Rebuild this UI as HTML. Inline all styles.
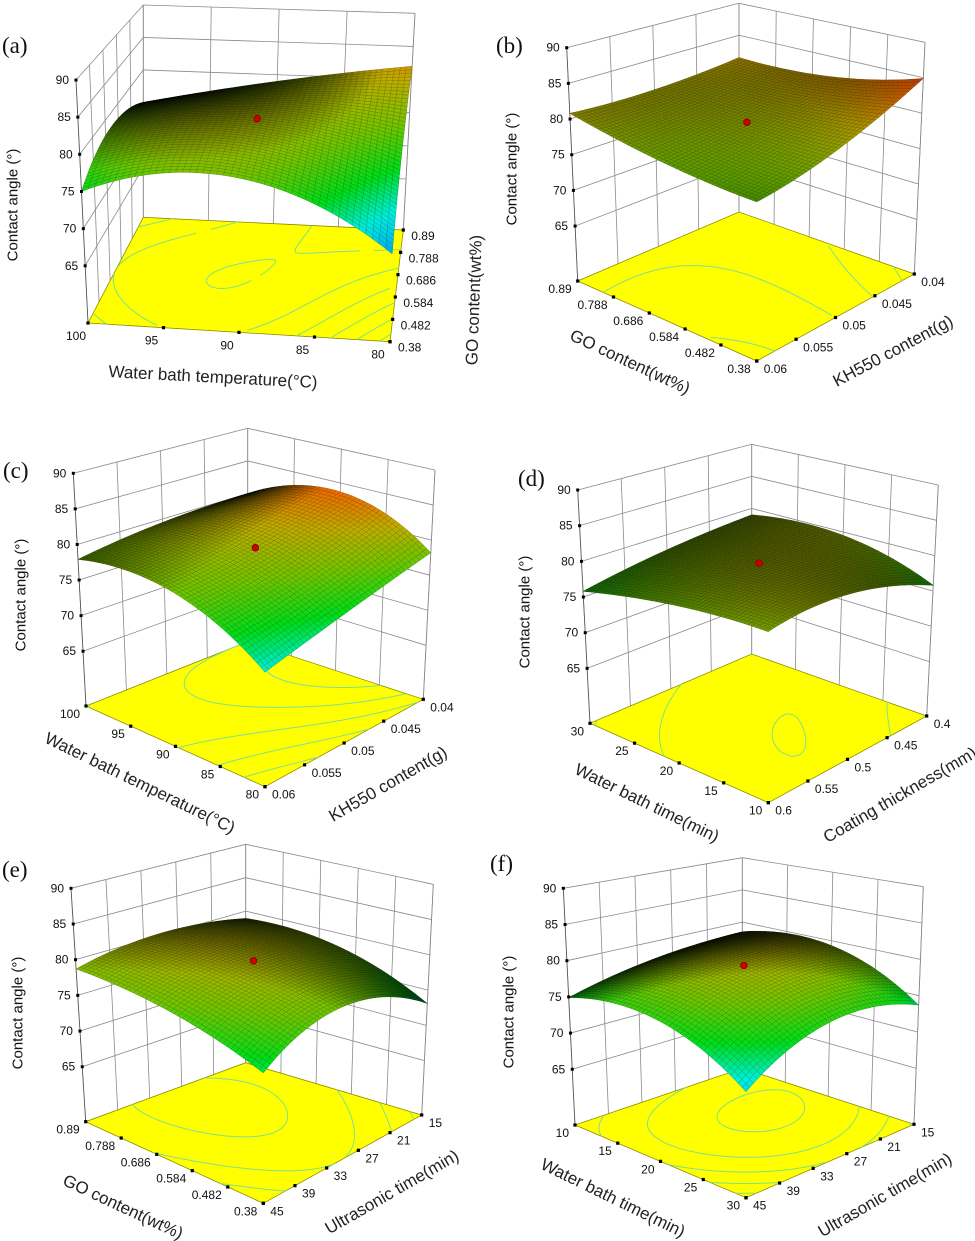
<!DOCTYPE html>
<html><head><meta charset="utf-8"><title>Contact angle response surfaces</title>
<style>
html,body{margin:0;padding:0;background:#fff;}
svg{display:block;}
text{font-family:"Liberation Sans",Arial,sans-serif;fill:#111;}
.pl{font-family:"Liberation Serif","Times New Roman",serif;font-size:23px;}
.zt{font-size:12px;}
.at{font-size:12px;}
.ttl{font-size:17px;fill:#222;}
.ca{font-size:15px;}
</style></head>
<body>
<svg id="fig" width="975" height="1241" viewBox="0 0 975 1241" xmlns="http://www.w3.org/2000/svg"></svg>
<script>
// ---- data (3x3 response grid rows v=0,0.5,1 ; cols u=0,0.5,1) ----
var zTickVals = [65, 70, 75, 80, 85, 90];
var zTickLabels = ['65', '70', '75', '80', '85', '90'];

var aZ = [[75.0, 78.0, 69.0], [78.0, 80.0, 76.0], [75.0, 79.0, 82.0]];
var aUTicks = ['100', '95', '90', '85', '80'];
var aVTicks = ['0.38', '0.482', '0.584', '0.686', '0.788', '0.89'];

var bZ = [[80.8, 78.5, 77.7], [80.5, 79.8, 80.0], [81.5, 82.0, 84.9]];
var bUTicks = ['0.89', '0.788', '0.686', '0.584', '0.482', '0.38'];
var bVTicks = ['0.06', '0.055', '0.05', '0.045', '0.04'];

var cZ = [[77.9, 78.1, 72.0], [79.5, 79.9, 75.0], [80.0, 83.7, 78.2]];
var cUTicks = ['100', '95', '90', '85', '80'];
var cVTicks = ['0.06', '0.055', '0.05', '0.045', '0.04'];

var dZ = [[75.8, 78.3, 79.0], [77.8, 79.9, 79.5], [79.0, 79.5, 75.8]];
var dUTicks = ['30', '25', '20', '15', '10'];
var dVTicks = ['0.6', '0.55', '0.5', '0.45', '0.4'];

var eZ = [[78.7, 77.5, 74.0], [80.3, 80.3, 78.0], [78.9, 78.1, 73.1]];
var eUTicks = ['0.89', '0.788', '0.686', '0.584', '0.482', '0.38'];
var eVTicks = ['45', '39', '33', '27', '21', '15'];

var fZ = [[74.9, 76.2, 71.0], [77.5, 80.1, 76.0], [78.5, 79.3, 73.7]];
var fUTicks = ['10', '15', '20', '25', '30'];
var fVTicks = ['45', '39', '33', '27', '21', '15'];

// ---- layout (screen geometry of each 3D box) ----
var ZF = 57.3, ZT = 90;
var panels = [
 {id:'a', label:'(a)', lx:2, ly:53, Z:aZ, ut:aUTicks, vt:aVTicks, mode:'a',
  L:[88,323], B:[390,341.7], R:[403.3,230], T:[143.3,217.3],
  Lt:[76,80], Bt:[396,96], Rt:[415,13.3], Tt:[143.3,5],
  ca:[13,205], ux:{t:'Water bath temperature(°C)', x:213, y:377, r:3}, vx:{t:'GO content(wt%)', x:474, y:300, r:-88}},
 {id:'b', label:'(b)', lx:496, ly:53, Z:bZ, ut:bUTicks, vt:bVTicks, mode:'d',
  L:[577.7,281], B:[756.7,361], R:[914.3,274], T:[739,212],
  Lt:[566.7,47.7], Bt:[756.7,106], Rt:[925,42.3], Tt:[739,3.3],
  ca:[512,169], ux:{t:'GO content(wt%)', x:630, y:362, r:25}, vx:{t:'KH550 content(g)', x:893, y:351, r:-28}},
 {id:'c', label:'(c)', lx:3, ly:478, Z:cZ, ut:cUTicks, vt:cVTicks, mode:'d',
  L:[86,706], B:[265,786.7], R:[423.3,699.3], T:[247.7,641.7],
  Lt:[73.3,473.3], Bt:[265,532], Rt:[435,470], Tt:[247.7,428.3],
  ca:[21,595], ux:{t:'Water bath temperature(°C)', x:140, y:783, r:26}, vx:{t:'KH550 content(g)', x:388, y:784, r:-30}},
 {id:'d', label:'(d)', lx:518, ly:486, Z:dZ, ut:dUTicks, vt:dVTicks, mode:'d',
  L:[590,723.3], B:[768.3,802.7], R:[926.7,716], T:[751.7,654],
  Lt:[577.7,490], Bt:[768.3,545], Rt:[938.3,485], Tt:[751.7,444.3],
  ca:[525,612], ux:{t:'Water bath time(min)', x:647, y:803, r:26}, vx:{t:'Coating thickness(mm)', x:900, y:795, r:-30}},
 {id:'e', label:'(e)', lx:2, ly:877, Z:eZ, ut:eUTicks, vt:eVTicks, mode:'d',
  L:[85.7,1121.7], B:[263.3,1203.3], R:[421.7,1115], T:[245.7,1062.7],
  Lt:[71,888.3], Bt:[263.3,948], Rt:[433.3,884.3], Tt:[245.7,844.3],
  ca:[18,1013], ux:{t:'GO content(wt%)', x:123, y:1207, r:25}, vx:{t:'Ultrasonic time(min)', x:392, y:1192, r:-30}},
 {id:'f', label:'(f)', lx:490, ly:871, Z:fZ, ut:fUTicks, vt:fVTicks, mode:'d',
  L:[575,1125], B:[746,1197.7], R:[914,1124.3], T:[742.3,1068.3],
  Lt:[563.3,888.3], Bt:[746,945], Rt:[923.3,886.7], Tt:[742.3,857.7],
  ca:[509,1012], ux:{t:'Water bath time(min)', x:613, y:1198, r:26}, vx:{t:'Ultrasonic time(min)', x:885, y:1195, r:-30}}
];

var NS = 'http://www.w3.org/2000/svg';
var svg = document.getElementById('fig');
function mk(tag, attrs, parent){var e=document.createElementNS(NS,tag);for(var k in attrs)e.setAttribute(k,attrs[k]);(parent||svg).appendChild(e);return e;}

function bil(p,u,v){
  return [p.L[0]*(1-u)*(1-v)+p.B[0]*u*(1-v)+p.R[0]*u*v+p.T[0]*(1-u)*v,
          p.L[1]*(1-u)*(1-v)+p.B[1]*u*(1-v)+p.R[1]*u*v+p.T[1]*(1-u)*v];
}
function bilTop(p,u,v){
  return [p.Lt[0]*(1-u)*(1-v)+p.Bt[0]*u*(1-v)+p.Rt[0]*u*v+p.Tt[0]*(1-u)*v,
          p.Lt[1]*(1-u)*(1-v)+p.Bt[1]*u*(1-v)+p.Rt[1]*u*v+p.Tt[1]*(1-u)*v];
}
function proj(p,u,v,z){
  var b=bil(p,u,v), t=bilTop(p,u,v), s=(z-ZF)/(ZT-ZF);
  return [b[0]+(t[0]-b[0])*s, b[1]+(t[1]-b[1])*s];
}
function lag(s){return [2*(s-0.5)*(s-1), -4*s*(s-1), 2*s*(s-0.5)];}
function zAt(Z,u,v){
  var lu=lag(u), lv=lag(v), z=0;
  for(var i=0;i<3;i++)for(var j=0;j<3;j++)z+=lv[i]*lu[j]*Z[i][j];
  return z;
}
var cstops=[[65,[0,60,200]],[69,[0,140,200]],[72,[0,200,185]],[75,[0,185,20]],[78,[95,165,0]],[81,[160,145,0]],[84,[205,85,0]],[87,[205,10,0]]];
function cmap(z){
  if(z<=cstops[0][0])return cstops[0][1].slice();
  for(var i=1;i<cstops.length;i++){if(z<=cstops[i][0]){var a=cstops[i-1],b=cstops[i],t=(z-a[0])/(b[0]-a[0]);return [0,1,2].map(function(k){return a[1][k]+(b[1][k]-a[1][k])*t;});}}
  return cstops[cstops.length-1][1].slice();
}
function area(pts){var s=0;for(var i=0;i<pts.length;i++){var a=pts[i],b=pts[(i+1)%pts.length];s+=a[0]*b[1]-b[0]*a[1];}return Math.abs(s)/2;}
function P(pt){return pt[0].toFixed(1)+','+pt[1].toFixed(1);}
function line(g,a,b,st,w,name){var e=mk('line',{x1:a[0],y1:a[1],x2:b[0],y2:b[1],stroke:st,'stroke-width':w},g);return e;}

panels.forEach(function(p){
  var g=mk('g',{});
  
  
  var nu=p.ut.length-1, nv=p.vt.length-1;
  // walls
  var wl=mk('polygon',{points:[p.L,p.T,p.Tt,p.Lt].map(P).join(' '),fill:'#fff',stroke:'none'},g);
  
  
  var gc='#8a8a8a';
  zTickVals.forEach(function(z){
    line(g,proj(p,0,0,z),proj(p,0,1,z),gc,0.8,'left-wall-gridline');
    line(g,proj(p,0,1,z),proj(p,1,1,z),gc,0.8,'back-wall-gridline');
  });
  for(var j=0;j<=nv;j++){var v=j/nv;line(g,bil(p,0,v),bilTop(p,0,v),gc,0.8,'left-wall-vertical');}
  for(var i=0;i<=nu;i++){var u=i/nu;line(g,bil(p,u,1),bilTop(p,u,1),gc,0.8,'back-wall-vertical');}
  line(g,p.R,p.Rt,gc,0.8,'right-edge');
  line(g,p.L,p.Lt,'#555',0.8,'z-axis-line');
  // floor
  var fl=mk('polygon',{points:[p.L,p.B,p.R,p.T].map(P).join(' '),fill:'#ffff00',stroke:'#8c8c00','stroke-width':0.8},g);
  
  
  // floor contours (marching squares)
  var N=40, zs=[];
  for(var a=0;a<=N;a++){zs.push([]);for(var b=0;b<=N;b++)zs[a].push(zAt(p.Z,b/N,a/N));}
  var cg=mk('g',{stroke:'#7fdf8f','stroke-width':1,fill:'none'},g);
  
  
  var d='';
  for(var lev=66;lev<=88;lev+=2){
    for(var a=0;a<N;a++)for(var b=0;b<N;b++){
      var c=[[b,a,zs[a][b]],[b+1,a,zs[a][b+1]],[b+1,a+1,zs[a+1][b+1]],[b,a+1,zs[a+1][b]]],pts=[];
      for(var k=0;k<4;k++){var q1=c[k],q2=c[(k+1)%4];if((q1[2]-lev)*(q2[2]-lev)<0){var t=(lev-q1[2])/(q2[2]-q1[2]);pts.push(bil(p,(q1[0]+(q2[0]-q1[0])*t)/N,(q1[1]+(q2[1]-q1[1])*t)/N));}}
      if(pts.length>=2)d+='M'+P(pts[0])+'L'+P(pts[1]);
    }
  }
  var cp=mk('path',{d:d},cg);
  
  
  // surface
  var M=46, quads=[];
  var S=[],F=[];
  for(var a=0;a<=M;a++){S.push([]);F.push([]);for(var b=0;b<=M;b++){var u=b/M,v=a/M;S[a].push(proj(p,u,v,zAt(p.Z,u,v)));F[a].push(bil(p,u,v));}}
  for(var a=0;a<M;a++)for(var b=0;b<M;b++){
    var sp=[S[a][b],S[a][b+1],S[a+1][b+1],S[a+1][b]], fp=[F[a][b],F[a][b+1],F[a+1][b+1],F[a+1][b]];
    var zc=zAt(p.Z,(b+0.5)/M,(a+0.5)/M);
    var ratio=area(sp)/Math.max(area(fp),1e-6);
    var br=Math.pow(Math.min(Math.max(ratio,0),1.25),1.5)*0.85;
    var col=cmap(zc).map(function(x){return Math.min(255,Math.round(x*br));});
    var depth=(fp[0][1]+fp[1][1]+fp[2][1]+fp[3][1])/4;
    quads.push({sp:sp,col:col,depth:depth});
  }
  quads.sort(function(x,y){return x.depth-y.depth;});
  var sg=mk('g',{},g);
  
  
  quads.forEach(function(q){
    var c='rgb('+q.col.join(',')+')', s='rgb('+q.col.map(function(x){return Math.round(x*0.7);}).join(',')+')';
    var e=mk('polygon',{points:q.sp.map(P).join(' '),fill:c,stroke:s,'stroke-width':0.45},sg);
    
    
  });
  // design point
  var cpt=proj(p,0.5,0.5,zAt(p.Z,0.5,0.5));
  var dp=mk('circle',{cx:cpt[0],cy:cpt[1],r:3.3,fill:'#d40000',stroke:'#700','stroke-width':0.8},g);
  
  
  // z ticks
  zTickVals.forEach(function(z,k){
    var pt=proj(p,0,0,z);
    var r=mk('rect',{x:pt[0]-1.5,y:pt[1]-1.5,width:3,height:3,fill:'#000'},g);
    
    
    var t=mk('text',{x:pt[0]-7,y:pt[1]+4,'text-anchor':'end','class':'zt'},g);
    t.textContent=zTickLabels[k];
    
    
  });
  // u ticks (L -> B)
  p.ut.forEach(function(lb,k){
    var pt=bil(p,k/nu,0);
    var r=mk('rect',{x:pt[0]-1.6,y:pt[1]-1.6,width:3.2,height:3.2,fill:'#000'},g);
    
    
    var t;
    if(p.mode==='a')t=mk('text',{x:pt[0]-12,y:pt[1]+17,'text-anchor':'middle','class':'at'},g);
    else t=mk('text',{x:pt[0]-6,y:pt[1]+12,'text-anchor':'end','class':'at'},g);
    t.textContent=lb;
    
    
  });
  // v ticks (B -> R)
  p.vt.forEach(function(lb,k){
    var pt=bil(p,1,k/nv);
    var r=mk('rect',{x:pt[0]-1.6,y:pt[1]-1.6,width:3.2,height:3.2,fill:'#000'},g);
    
    
    var t;
    if(p.mode==='a')t=mk('text',{x:pt[0]+8,y:pt[1]+10,'text-anchor':'start','class':'at'},g);
    else t=mk('text',{x:pt[0]+7,y:pt[1]+12,'text-anchor':'start','class':'at'},g);
    t.textContent=lb;
    
    
  });
  // titles
  var ca=mk('text',{x:p.ca[0],y:p.ca[1],'text-anchor':'middle','dominant-baseline':'central','class':'ca',transform:'rotate(-90 '+p.ca[0]+' '+p.ca[1]+')'},g);
  ca.textContent='Contact angle (°)';
  
  
  [['x-axis-title',p.ux],['y-axis-title',p.vx]].forEach(function(o){
    var a=o[1];
    var t=mk('text',{x:a.x,y:a.y,'text-anchor':'middle','dominant-baseline':'central','class':'ttl',transform:'rotate('+a.r+' '+a.x+' '+a.y+')'},g);
    t.textContent=a.t;
    
    
  });
  var pl=mk('text',{x:p.lx,y:p.ly,'class':'pl'},g);
  pl.textContent=p.label;
  
  
});
</script>
</body></html>
